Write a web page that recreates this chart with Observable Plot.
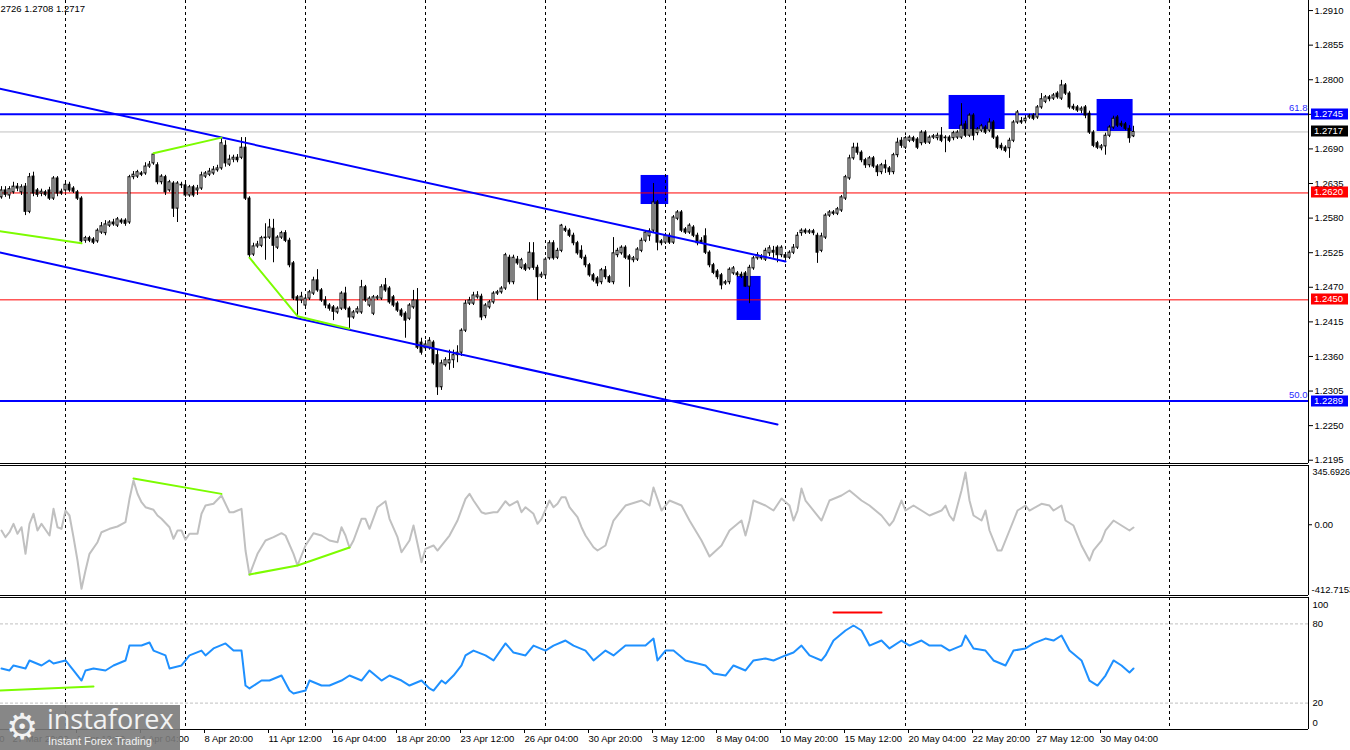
<!DOCTYPE html>
<html><head><meta charset="utf-8">
<script src="https://cdn.jsdelivr.net/npm/d3@7"></script>
<script src="https://cdn.jsdelivr.net/npm/@observablehq/plot@0.6"></script>
<style>
html,body{margin:0;padding:0;background:#fff;overflow:hidden;}
#wrap{position:relative;width:1350px;height:750px;overflow:hidden;background:#fff;}
#wrap svg{position:absolute;left:0;}
#wm{position:absolute;left:0;top:705px;width:180px;height:45px;background:rgba(122,122,122,0.9);color:#f2f2f2;}
#wm .g{position:absolute;left:6px;top:3px;font-family:"DejaVu Sans";font-size:36px;line-height:38px;}
#wm .n{position:absolute;left:47px;top:-3px;font-family:"Open Sans";font-size:27px;line-height:34px;}
#wm .s{position:absolute;left:48px;top:30px;font-family:"Liberation Sans";font-size:11px;line-height:13px;}
</style></head><body><div id="wrap"></div>
<script>
// ---------- data (GBP/USD H4 candles, bar index 0..283) ----------
const opens = [1.2613,1.2624,1.2616,1.2621,1.2630,1.2621,1.2630,1.2590,1.2646,1.2624,1.2619,1.2621,1.2624,1.2611,1.2643,1.2622,1.2624,1.2633,1.2627,1.2621,
1.2611,1.2544,1.2548,1.2546,1.2543,1.2557,1.2556,1.2568,1.2573,1.2568,1.2576,1.2576,1.2573,1.2645,1.2646,1.2651,1.2651,1.2662,1.2667,1.2664,
1.2637,1.2645,1.2624,1.2635,1.2595,1.2633,1.2632,1.2616,1.2629,1.2624,1.2627,1.2646,1.2649,1.2651,1.2656,1.2659,1.2695,1.2665,1.2673,1.2676,
1.2676,1.2692,1.2611,1.2522,1.2535,1.2536,1.2548,1.2549,1.2563,1.2533,1.2549,1.2556,1.2544,1.2508,1.2454,1.2449,1.2441,1.2452,1.2460,1.2481,
1.2465,1.2449,1.2441,1.2438,1.2430,1.2436,1.2460,1.2436,1.2422,1.2430,1.2430,1.2470,1.2441,1.2428,1.2452,1.2452,1.2473,1.2468,1.2454,1.2444,
1.2433,1.2428,1.2420,1.2438,1.2449,1.2382,1.2373,1.2373,1.2382,1.2362,1.2311,1.2346,1.2349,1.2354,1.2362,1.2366,1.2401,1.2444,1.2444,1.2454,
1.2455,1.2424,1.2438,1.2446,1.2460,1.2462,1.2468,1.2517,1.2478,1.2514,1.2501,1.2505,1.2500,1.2524,1.2501,1.2487,1.2489,1.2516,1.2540,1.2517,
1.2528,1.2563,1.2560,1.2552,1.2540,1.2528,1.2517,1.2505,1.2489,1.2484,1.2478,1.2497,1.2486,1.2478,1.2521,1.2524,1.2533,1.2519,1.2513,1.2514,
1.2528,1.2544,1.2551,1.2560,1.2605,1.2543,1.2541,1.2552,1.2541,1.2579,1.2589,1.2562,1.2557,1.2565,1.2552,1.2544,1.2551,1.2525,1.2505,1.2495,
1.2489,1.2476,1.2478,1.2492,1.2492,1.2490,1.2492,1.2471,1.2500,1.2516,1.2517,1.2514,1.2524,1.2528,1.2533,1.2521,1.2521,1.2517,1.2525,1.2533,
1.2556,1.2560,1.2557,1.2559,1.2552,1.2528,1.2549,1.2584,1.2589,1.2587,1.2592,1.2611,1.2643,1.2675,1.2692,1.2684,1.2672,1.2664,1.2675,1.2662,
1.2653,1.2664,1.2659,1.2653,1.2680,1.2703,1.2692,1.2703,1.2707,1.2705,1.2699,1.2716,1.2700,1.2708,1.2707,1.2711,1.2707,1.2708,1.2707,1.2708,
1.2708,1.2729,1.2711,1.2743,1.2715,1.2719,1.2724,1.2719,1.2732,1.2708,1.2695,1.2692,1.2691,1.2703,1.2732,1.2734,1.2734,1.2740,1.2743,1.2740,
1.2756,1.2765,1.2772,1.2770,1.2778,1.2770,1.2791,1.2778,1.2757,1.2756,1.2751,1.2756,1.2746,1.2716,1.2699,1.2691,1.2694,1.2711,1.2724,1.2740,
1.2730,1.2729,1.2722,1.2710];
const highs = [1.2630,1.2630,1.2630,1.2637,1.2635,1.2633,1.2635,1.2651,1.2653,1.2627,1.2626,1.2624,1.2629,1.2646,1.2646,1.2626,1.2638,1.2637,1.2630,1.2624,
1.2614,1.2551,1.2551,1.2549,1.2563,1.2573,1.2576,1.2576,1.2578,1.2581,1.2579,1.2579,1.2648,1.2654,1.2656,1.2654,1.2668,1.2670,1.2683,1.2668,
1.2649,1.2648,1.2640,1.2638,1.2638,1.2637,1.2637,1.2632,1.2632,1.2632,1.2653,1.2654,1.2659,1.2662,1.2664,1.2708,1.2703,1.2680,1.2680,1.2681,
1.2708,1.2708,1.2614,1.2540,1.2543,1.2551,1.2571,1.2578,1.2578,1.2552,1.2559,1.2560,1.2548,1.2511,1.2457,1.2462,1.2455,1.2465,1.2486,1.2498,
1.2468,1.2455,1.2444,1.2441,1.2439,1.2463,1.2470,1.2439,1.2433,1.2439,1.2481,1.2473,1.2455,1.2457,1.2457,1.2474,1.2484,1.2471,1.2457,1.2447,
1.2436,1.2431,1.2444,1.2465,1.2468,1.2389,1.2385,1.2390,1.2385,1.2370,1.2354,1.2358,1.2370,1.2370,1.2377,1.2404,1.2449,1.2454,1.2462,1.2463,
1.2459,1.2444,1.2449,1.2463,1.2465,1.2471,1.2524,1.2521,1.2521,1.2519,1.2516,1.2508,1.2541,1.2541,1.2505,1.2494,1.2517,1.2544,1.2544,1.2532,
1.2570,1.2567,1.2563,1.2556,1.2543,1.2536,1.2521,1.2508,1.2492,1.2487,1.2500,1.2503,1.2489,1.2549,1.2532,1.2536,1.2536,1.2522,1.2519,1.2533,
1.2548,1.2560,1.2563,1.2635,1.2608,1.2546,1.2556,1.2556,1.2584,1.2592,1.2592,1.2565,1.2571,1.2568,1.2556,1.2549,1.2563,1.2528,1.2508,1.2498,
1.2492,1.2481,1.2501,1.2503,1.2495,1.2494,1.2495,1.2505,1.2519,1.2525,1.2522,1.2532,1.2536,1.2535,1.2536,1.2536,1.2525,1.2528,1.2538,1.2557,
1.2563,1.2563,1.2562,1.2562,1.2556,1.2556,1.2587,1.2592,1.2592,1.2597,1.2616,1.2648,1.2680,1.2699,1.2699,1.2687,1.2675,1.2678,1.2678,1.2665,
1.2667,1.2672,1.2662,1.2683,1.2707,1.2708,1.2710,1.2711,1.2710,1.2708,1.2719,1.2719,1.2711,1.2713,1.2715,1.2724,1.2711,1.2711,1.2718,1.2719,
1.2762,1.2734,1.2746,1.2746,1.2724,1.2729,1.2727,1.2738,1.2735,1.2711,1.2699,1.2695,1.2707,1.2735,1.2751,1.2740,1.2742,1.2745,1.2746,1.2759,
1.2778,1.2775,1.2775,1.2778,1.2781,1.2799,1.2794,1.2781,1.2761,1.2759,1.2757,1.2759,1.2750,1.2719,1.2702,1.2697,1.2715,1.2727,1.2742,1.2743,
1.2734,1.2732,1.2727,1.2726];
const lows = [1.2610,1.2613,1.2610,1.2618,1.2622,1.2616,1.2584,1.2587,1.2614,1.2613,1.2614,1.2614,1.2608,1.2608,1.2614,1.2616,1.2621,1.2621,1.2619,1.2608,
1.2540,1.2540,1.2541,1.2538,1.2540,1.2554,1.2552,1.2565,1.2567,1.2565,1.2570,1.2567,1.2570,1.2641,1.2643,1.2646,1.2648,1.2659,1.2664,1.2633,
1.2633,1.2616,1.2621,1.2581,1.2573,1.2627,1.2613,1.2613,1.2613,1.2616,1.2624,1.2643,1.2646,1.2648,1.2653,1.2656,1.2661,1.2662,1.2668,1.2668,
1.2673,1.2608,1.2517,1.2519,1.2532,1.2533,1.2513,1.2546,1.2509,1.2530,1.2546,1.2541,1.2501,1.2449,1.2424,1.2444,1.2438,1.2449,1.2457,1.2462,
1.2446,1.2436,1.2432,1.2417,1.2427,1.2433,1.2433,1.2404,1.2419,1.2427,1.2427,1.2446,1.2438,1.2425,1.2449,1.2449,1.2462,1.2443,1.2438,1.2430,
1.2422,1.2389,1.2417,1.2435,1.2371,1.2362,1.2370,1.2370,1.2346,1.2298,1.2306,1.2343,1.2338,1.2341,1.2350,1.2360,1.2398,1.2441,1.2441,1.2451,
1.2417,1.2420,1.2435,1.2443,1.2457,1.2459,1.2465,1.2474,1.2474,1.2505,1.2498,1.2495,1.2497,1.2497,1.2449,1.2484,1.2486,1.2513,1.2513,1.2514,
1.2525,1.2557,1.2549,1.2536,1.2521,1.2514,1.2501,1.2486,1.2478,1.2471,1.2474,1.2482,1.2476,1.2474,1.2517,1.2521,1.2514,1.2470,1.2509,1.2511,
1.2525,1.2541,1.2543,1.2557,1.2528,1.2536,1.2538,1.2538,1.2538,1.2576,1.2557,1.2554,1.2554,1.2549,1.2536,1.2538,1.2522,1.2501,1.2490,1.2482,
1.2466,1.2473,1.2474,1.2489,1.2486,1.2484,1.2470,1.2444,1.2497,1.2513,1.2513,1.2511,1.2519,1.2516,1.2509,1.2517,1.2514,1.2514,1.2522,1.2530,
1.2551,1.2554,1.2554,1.2552,1.2508,1.2525,1.2546,1.2581,1.2584,1.2584,1.2589,1.2608,1.2640,1.2672,1.2680,1.2668,1.2659,1.2660,1.2659,1.2646,
1.2649,1.2651,1.2648,1.2649,1.2676,1.2691,1.2689,1.2700,1.2700,1.2689,1.2695,1.2697,1.2697,1.2705,1.2703,1.2700,1.2684,1.2700,1.2703,1.2705,
1.2705,1.2708,1.2708,1.2703,1.2711,1.2716,1.2713,1.2716,1.2705,1.2689,1.2687,1.2684,1.2675,1.2700,1.2729,1.2729,1.2730,1.2737,1.2735,1.2737,
1.2753,1.2762,1.2765,1.2767,1.2769,1.2767,1.2775,1.2753,1.2751,1.2748,1.2746,1.2738,1.2713,1.2692,1.2689,1.2687,1.2680,1.2708,1.2721,1.2724,
1.2724,1.2719,1.2699,1.2708];
const closes = [1.2624,1.2617,1.2626,1.2630,1.2627,1.2629,1.2590,1.2645,1.2619,1.2617,1.2622,1.2617,1.2611,1.2643,1.2619,1.2619,1.2633,1.2624,1.2622,1.2611,
1.2543,1.2548,1.2544,1.2541,1.2560,1.2567,1.2570,1.2573,1.2570,1.2578,1.2573,1.2571,1.2645,1.2649,1.2653,1.2649,1.2662,1.2665,1.2681,1.2637,
1.2646,1.2621,1.2637,1.2595,1.2635,1.2632,1.2616,1.2629,1.2616,1.2627,1.2648,1.2651,1.2654,1.2657,1.2659,1.2699,1.2667,1.2673,1.2676,1.2672,
1.2692,1.2611,1.2521,1.2535,1.2538,1.2548,1.2549,1.2565,1.2536,1.2549,1.2556,1.2544,1.2505,1.2452,1.2449,1.2455,1.2452,1.2462,1.2481,1.2465,
1.2449,1.2441,1.2436,1.2431,1.2436,1.2460,1.2436,1.2422,1.2430,1.2435,1.2470,1.2449,1.2452,1.2454,1.2454,1.2470,1.2465,1.2446,1.2441,1.2433,
1.2425,1.2417,1.2441,1.2449,1.2374,1.2366,1.2379,1.2385,1.2349,1.2311,1.2349,1.2354,1.2354,1.2362,1.2366,1.2401,1.2444,1.2449,1.2457,1.2457,
1.2422,1.2441,1.2446,1.2460,1.2462,1.2468,1.2521,1.2478,1.2517,1.2508,1.2513,1.2498,1.2525,1.2501,1.2486,1.2490,1.2514,1.2540,1.2516,1.2528,
1.2568,1.2560,1.2552,1.2540,1.2524,1.2517,1.2505,1.2489,1.2481,1.2476,1.2497,1.2486,1.2478,1.2524,1.2528,1.2533,1.2517,1.2514,1.2516,1.2530,
1.2544,1.2557,1.2559,1.2605,1.2541,1.2540,1.2552,1.2541,1.2581,1.2589,1.2560,1.2557,1.2568,1.2552,1.2540,1.2541,1.2525,1.2505,1.2493,1.2486,
1.2473,1.2478,1.2498,1.2500,1.2489,1.2487,1.2471,1.2501,1.2516,1.2521,1.2516,1.2528,1.2532,1.2525,1.2521,1.2533,1.2517,1.2525,1.2533,1.2552,
1.2560,1.2557,1.2559,1.2556,1.2525,1.2551,1.2584,1.2589,1.2587,1.2594,1.2613,1.2645,1.2675,1.2692,1.2684,1.2672,1.2664,1.2675,1.2662,1.2653,
1.2664,1.2659,1.2653,1.2680,1.2700,1.2695,1.2707,1.2708,1.2703,1.2692,1.2716,1.2700,1.2708,1.2710,1.2711,1.2703,1.2708,1.2703,1.2715,1.2716,
1.2727,1.2711,1.2743,1.2711,1.2721,1.2726,1.2716,1.2732,1.2708,1.2692,1.2691,1.2687,1.2703,1.2732,1.2748,1.2732,1.2738,1.2742,1.2738,1.2756,
1.2769,1.2772,1.2769,1.2775,1.2772,1.2791,1.2778,1.2756,1.2754,1.2751,1.2754,1.2743,1.2716,1.2695,1.2692,1.2694,1.2711,1.2724,1.2738,1.2727,
1.2727,1.2722,1.2707,1.2717];

// weekly period separators (bar index)
const separators = [16, 46, 76, 106, 136, 166, 196, 226, 256, 292];
// price axis ticks
const priceTicks = [1.2195, 1.2250, 1.2305, 1.2360, 1.2415, 1.2470, 1.2525, 1.2580, 1.2635, 1.2690, 1.2745, 1.2800, 1.2855, 1.2910];
// time axis
const timeTickBars = [-14, 2, 18, 34, 50, 66, 82, 98, 114, 130, 146, 162, 178, 194, 210, 226, 242, 258, 274];
const timeLabels = ["25 Mar 04:00","27 Mar 20:00","1 Apr 12:00","4 Apr 04:00","8 Apr 20:00","11 Apr 12:00","16 Apr 04:00","18 Apr 20:00","23 Apr 12:00","26 Apr 04:00","30 Apr 20:00","3 May 12:00","8 May 04:00","10 May 20:00","15 May 12:00","20 May 04:00","22 May 20:00","27 May 12:00","30 May 04:00"];
// horizontal levels
const fibLevels = [1.2745, 1.2289];
const fibNames = ["61.8", "50.0"];
const redLevels = [1.2620, 1.2450];
const lastPrice = 1.2717;
const tagValues = [1.2745, 1.2717, 1.2620, 1.2450, 1.2289];
const tagColors = ["#0000ff", "#000000", "#ff0000", "#ff0000", "#0000ff"];
// trend channel lines [bar, price]
const upperChannel = [[-0.4, 1.27856], [196, 1.25110]];
const lowerChannel = [[-0.4, 1.25253], [194, 1.22518]];
// divergence lines on price
const greenPrice1 = [[-0.4, 1.2559], [20, 1.2540]];
const greenPrice2 = [[38, 1.2683], [55, 1.2708]];
const greenPrice3 = [[62, 1.2517], [74, 1.2424], [87, 1.2404]];
// blue zones [bar1, bar2, price1, price2]
const zones = [[159.9, 166.8, 1.26478, 1.26016], [183.9, 189.9, 1.24872, 1.24172], [236.9, 250.9, 1.27750, 1.27209], [273.9, 282.9, 1.27686, 1.27177]];
// CCI
const cciBars = [0,1,2,3,4,5,6,7,8,9,10,12,13,14,15,16,17,18,19,20,21,22,24,25,27,29,31,32,33,34,35,36,38,39,40,42,43,44,45,46,47,49,50,51,53,55,57,58,60,61,62,64,66,68,70,71,73,74,76,78,80,82,84,85,86,87,88,90,91,92,94,96,97,99,100,102,103,104,105,106,108,109,111,112,114,116,117,118,120,121,123,124,126,127,129,130,131,133,134,135,137,138,139,140,141,142,144,145,146,148,149,151,153,156,160,162,163,165,167,170,172,175,177,180,182,185,186,187,188,191,193,195,197,198,199,200,201,203,205,206,207,210,212,215,217,220,222,223,225,226,228,230,232,235,236,237,238,240,241,242,243,245,246,247,249,250,252,254,256,257,260,262,263,265,266,268,270,272,273,275,276,278,280,282,283];
const cciVals = [-33.5,-72.6,-43.5,5.5,-52.8,-14.3,-169.5,5.5,63.9,-33.5,5.5,-62.7,93,-14.3,-23.6,83.1,54,-72.6,-208.6,-373.7,-266.9,-169.5,-101.8,-43.5,-23.6,-10.2,14.9,151.4,258.2,180.6,131.6,102.4,87.2,54,34.7,-14.3,-82,-33.5,-33.5,-87.8,-52.8,-52.8,63.9,112.3,122.2,170.6,73.2,73.2,93,-150.2,-292,-169.5,-91.9,-72.6,-49.3,-62.7,-169.5,-237.7,-121,-49.3,-62.7,-91.9,-101.8,-14.3,-62.7,-134.5,-91.9,34.7,34.7,-23.6,102.4,137.4,34.7,-72.6,-160.1,-91.9,-4.4,-111.1,-218.5,-140.3,-121,-150.2,-91.9,-62.7,24.8,151.4,180.6,141.5,73.2,63.9,73.2,73.2,137.4,112.3,137.4,73.2,102.4,63.9,5.5,34.7,141.5,102.4,122.2,160.7,160.7,102.4,44,-14.3,-62.7,-131,-150.2,-121,24.8,112.3,141.5,112.3,217.4,83.1,141.5,112.3,24.8,-91.9,-185.2,-121,-33.5,24.8,-62.7,24.8,141.5,112.3,83.1,153,112.3,24.8,83.1,211.5,141.5,83.1,24.8,83.1,141.5,170.6,199.8,141.5,112.3,54,-4.4,24.8,141.5,83.1,112.3,83.1,54,83.1,112.3,54,24.8,199.8,304.8,141.5,54,24.8,83.1,-33.5,-150,-150,-33.5,83.1,112.3,83.1,122,112.3,83.1,112.3,24.8,-4.4,-121,-208.6,-150,-91.9,-33.5,24.8,-4.4,-33.5,-16];
const cciGreen1 = [[33, 269.8], [55, 180.2]];
const cciGreen2 = [[62, -290], [74, -237.7], [87, -132.7]];
const cciMin = -412.7153, cciMax = 345.6926;
// RSI
const rsiBars = [0,2,3,6,7,10,12,13,16,18,20,21,23,26,28,31,32,35,37,38,41,42,45,47,50,51,53,56,58,60,61,62,65,67,70,72,73,76,77,80,82,85,87,90,92,95,97,100,102,105,107,108,110,111,113,115,116,118,121,123,126,128,131,133,136,138,141,143,146,148,151,153,156,158,161,163,164,166,168,171,173,176,178,181,183,186,187,188,191,193,196,198,200,202,205,206,208,211,213,215,217,220,222,225,227,230,232,235,237,240,241,243,246,248,251,253,256,258,261,263,265,267,270,272,274,276,278,280,282,283];
const rsiVals = [46.2,44.7,48.5,46.2,52.3,48.5,52.3,50,52.3,44.7,37.1,44.7,46.2,44.7,48.5,52.3,63.6,63.6,65.9,59.8,56.1,46.2,48.5,56.1,59.8,56.1,61.4,65.2,59.8,59.8,33.3,31.1,37.1,37.1,40.9,29.5,27.3,29.5,37.1,33.3,33.3,37.1,40.9,37.1,44.7,37.1,40.9,37.1,33.3,37.1,31.1,29.5,37.1,34.8,40.9,48.5,56.1,59.8,56.1,52.3,65.2,58.3,56.1,63.6,59.8,63.6,67.4,63.6,59.8,52.3,59.8,56.1,63.6,63.6,63.6,68.9,52.3,59.8,59.8,52.3,50.8,48.5,42.4,40.9,48.5,44.7,48.5,52.3,53.8,52.3,56.1,58.3,63.6,56.1,52.3,56.1,67.4,75,78.8,75,63.6,67.4,61.4,67.4,63.6,67.4,63.6,63.6,59.8,63.6,71.2,61.4,59.8,52.3,48.5,59.8,61.4,65.2,68.9,67.4,71.2,59.8,52.3,37.1,33.3,40.9,52.3,48.5,43.2,46.2];
const rsiGreen = [[-0.4, 29.5], [23, 32.6]];
const rsiRed = [[208, 88.6], [220, 88.6]];
const rsiLevels = [80, 20];
const header = "2726 1.2708 1.2717";

// ---------- build ----------
const W = 1350, MR = 42;
const FONT = "'Liberation Sans', Arial, sans-serif";
const xDomain = [-0.25, 326.75];
const bars = opens.map((o, i) => ({i, o, h: highs[i], l: lows[i], c: closes[i]}));
const pts = a => a.map(([x, y]) => ({x, y}));
const style = {fontFamily: FONT, fontSize: "9px", background: "transparent", color: "black"};
const wrap = document.getElementById("wrap");

function priceTags(values, colors) {
  return (index, scales, vals, dim) => {
    const g = d3.create("svg:g");
    const x0 = dim.width - dim.marginRight;
    values.forEach((v, k) => {
      const y = Math.round(scales.y(v));
      g.append("rect").attr("x", x0 + 3).attr("y", y - 5.5).attr("width", 37).attr("height", 11).attr("fill", colors[k]);
      g.append("text").attr("x", x0 + 6).attr("y", y).attr("dy", "0.36em").attr("fill", "white")
        .attr("text-anchor", "start").attr("font-family", FONT).attr("font-size", 9.5).text(v.toFixed(4));
    });
    return g.node();
  };
}

const main = Plot.plot({
  width: W, height: 464, marginTop: 0, marginBottom: 1, marginLeft: 0, marginRight: MR,
  x: {domain: xDomain, axis: null},
  y: {domain: [1.21898, 1.2926], axis: null},
  style,
  marks: [
    Plot.rect(zones, {x1: d => d[0], x2: d => d[1], y1: d => d[2], y2: d => d[3], fill: "#0000ff"}),
    Plot.ruleX(separators, {stroke: "black", strokeDasharray: "3,3"}),
    Plot.ruleY([lastPrice], {stroke: "#c0c0c0", strokeWidth: 1}),
    Plot.ruleY(redLevels, {stroke: "#ff0000", strokeWidth: 1}),
    Plot.ruleY(fibLevels, {stroke: "#0000ff", strokeWidth: 2}),
    Plot.ruleX(bars, {x: "i", y1: "l", y2: "h", stroke: "black", strokeWidth: 1}),
    Plot.rect(bars, {x1: d => d.i - 0.25, x2: d => d.i + 0.25, y1: "o", y2: "c",
      fill: d => d.c >= d.o ? "white" : "black", stroke: "black", strokeWidth: 1}),
    Plot.line(pts(upperChannel), {x: "x", y: "y", stroke: "#0000ff", strokeWidth: 2}),
    Plot.line(pts(lowerChannel), {x: "x", y: "y", stroke: "#0000ff", strokeWidth: 2}),
    Plot.line(pts(greenPrice1), {x: "x", y: "y", stroke: "#7cfc00", strokeWidth: 2}),
    Plot.line(pts(greenPrice2), {x: "x", y: "y", stroke: "#7cfc00", strokeWidth: 2}),
    Plot.line(pts(greenPrice3), {x: "x", y: "y", stroke: "#7cfc00", strokeWidth: 2}),
    Plot.ruleY([1.21898], {stroke: "black"}),
    Plot.ruleX([xDomain[1]], {stroke: "black"}),
    Plot.axisY(priceTicks, {anchor: "right", tickSize: 4, tickPadding: 2, tickFormat: d => d.toFixed(4), fontSize: 9.5, label: null}),
    Plot.text(fibLevels, {y: d => d, text: (d, i) => fibNames[i], frameAnchor: "right", textAnchor: "end", dx: -1, dy: -6, fill: "#2a2aff", fontSize: 9.5}),
    priceTags(tagValues, tagColors),
    Plot.text([header], {frameAnchor: "top-left", textAnchor: "start", lineAnchor: "top", dx: 0, dy: 5, fontSize: 9.5})
  ]
});
main.style.top = "0px";
wrap.appendChild(main);

const cciData = cciBars.map((b, i) => ({x: b, y: cciVals[i]}));
const cci = Plot.plot({
  width: W, height: 132, marginTop: 1, marginBottom: 1, marginLeft: 0, marginRight: MR,
  x: {domain: xDomain, axis: null},
  y: {domain: [cciMin, cciMax], axis: null},
  style,
  marks: [
    Plot.ruleX(separators, {stroke: "black", strokeDasharray: "3,3"}),
    Plot.line(cciData, {x: "x", y: "y", stroke: "#c0c0c0", strokeWidth: 2}),
    Plot.line(pts(cciGreen1), {x: "x", y: "y", stroke: "#7cfc00", strokeWidth: 2}),
    Plot.line(pts(cciGreen2), {x: "x", y: "y", stroke: "#7cfc00", strokeWidth: 2}),
    Plot.ruleY([cciMin, cciMax], {stroke: "black"}),
    Plot.ruleX([xDomain[1]], {stroke: "black"}),
    Plot.axisY([0], {anchor: "right", tickSize: 3, tickPadding: 3, tickFormat: () => "0.00", fontSize: 9.5, label: null}),
    Plot.text([cciMax], {y: d => d, text: d => d.toFixed(4), frameAnchor: "right", textAnchor: "start", dx: 4, dy: 7, fontSize: 9, letterSpacing: "-0.3px"}),
    Plot.text([cciMin], {y: d => d, text: d => d.toFixed(4), frameAnchor: "right", textAnchor: "start", dx: 3, dy: -6, fontSize: 9.5})
  ]
});
cci.style.top = "464px";
wrap.appendChild(cci);

const rsiData = rsiBars.map((b, i) => ({x: b, y: rsiVals[i]}));
const labelOf = new Map(timeTickBars.map((b, i) => [b, timeLabels[i]]));
const rsi = Plot.plot({
  width: W, height: 154, marginTop: 1, marginBottom: 21, marginLeft: 0, marginRight: MR,
  x: {domain: xDomain, axis: null},
  y: {domain: [0, 100], axis: null},
  style,
  marks: [
    Plot.ruleX(separators, {stroke: "black", strokeDasharray: "3,3"}),
    Plot.ruleY(rsiLevels, {stroke: "#c0c0c0", strokeDasharray: "3,2"}),
    Plot.line(rsiData, {x: "x", y: "y", stroke: "#1e90ff", strokeWidth: 2}),
    Plot.line(pts(rsiGreen), {x: "x", y: "y", stroke: "#7cfc00", strokeWidth: 2}),
    Plot.line(pts(rsiRed), {x: "x", y: "y", stroke: "#ff0000", strokeWidth: 2}),
    Plot.ruleY([0, 100], {stroke: "black"}),
    Plot.ruleX([xDomain[1]], {stroke: "black"}),
    Plot.text(rsiLevels, {y: d => d, text: d => String(d), frameAnchor: "right", textAnchor: "start", dx: 4, fontSize: 9.5}),
    Plot.text([100], {y: d => d, text: d => String(d), frameAnchor: "right", textAnchor: "start", dx: 4, dy: 7, fontSize: 9.5}),
    Plot.text([0], {y: d => d, text: d => String(d), frameAnchor: "right", textAnchor: "start", dx: 4, dy: -7, fontSize: 9.5}),
    Plot.axisX(timeTickBars, {anchor: "bottom", tickSize: 4, tickPadding: 2, tickFormat: d => labelOf.get(d), textAnchor: "start", dx: 3, fontSize: 9.5, label: null})
  ]
});
rsi.style.top = "596px";
wrap.appendChild(rsi);

const wm = document.createElement("div");
wm.id = "wm";
wm.innerHTML = '<span class="g">⚙</span><span class="n">instaforex</span><span class="s">Instant Forex Trading</span>';
wrap.appendChild(wm);
</script>
</body></html>
